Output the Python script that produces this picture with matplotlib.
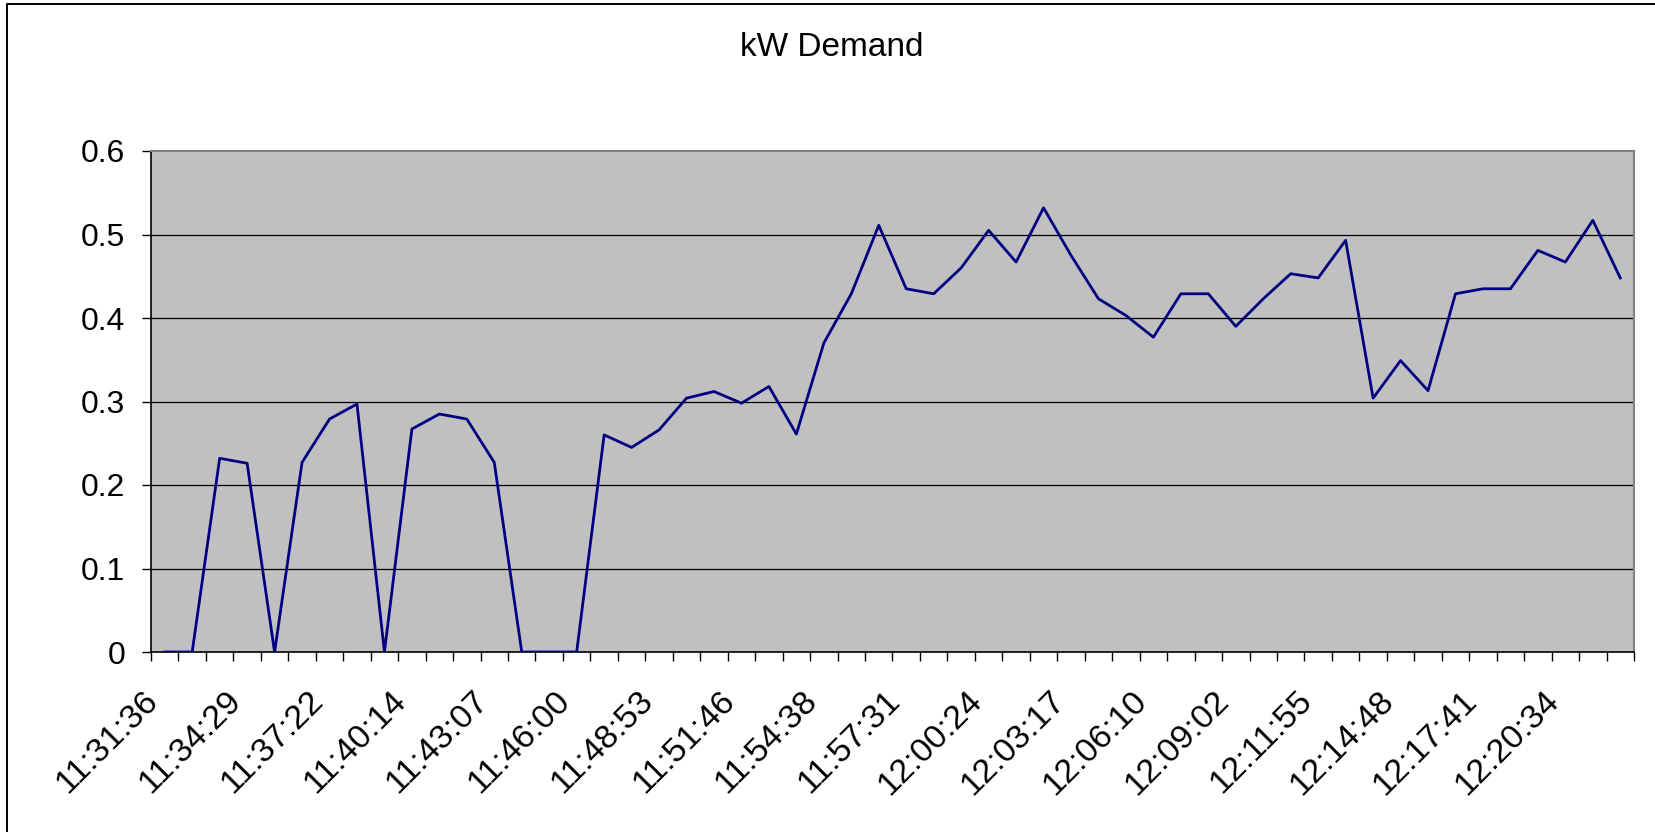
import matplotlib.pyplot as plt
from matplotlib.lines import Line2D
from matplotlib.transforms import ScaledTranslation
import numpy as np

plt.rcParams["font.family"] = ["Liberation Sans", "DejaVu Sans"]

# readings, one per minute (approx. 57.6 s apart)
demand_kw = [
    0.0, 0.0, 0.232, 0.226, 0.0, 0.227, 0.279, 0.297, 0.0, 0.267,
    0.285, 0.279, 0.227, 0.0, 0.0, 0.0, 0.260, 0.245, 0.266, 0.304,
    0.312, 0.298, 0.318, 0.261, 0.370, 0.429, 0.511, 0.435, 0.429, 0.460,
    0.505, 0.467, 0.532, 0.475, 0.423, 0.403, 0.377, 0.429, 0.429, 0.390,
    0.423, 0.453, 0.448, 0.493, 0.304, 0.349, 0.313, 0.429, 0.435, 0.435,
    0.481, 0.467, 0.517, 0.448,
]

# every third category gets a label
time_labels = [
    "11:31:36", "11:34:29", "11:37:22", "11:40:14", "11:43:07", "11:46:00",
    "11:48:53", "11:51:46", "11:54:38", "11:57:31", "12:00:24", "12:03:17",
    "12:06:10", "12:09:02", "12:11:55", "12:14:48", "12:17:41", "12:20:34",
]
label_step = 3

y_ticks = [0, 0.1, 0.2, 0.3, 0.4, 0.5, 0.6]
y_tick_labels = ["0", "0.1", "0.2", "0.3", "0.4", "0.5", "0.6"]

W, H = 1655, 832
fig = plt.figure(figsize=(W / 100, H / 100), dpi=100)
fig.patch.set_facecolor("white")

left, right, top, bottom = 151, 1634, 151, 652
ax = fig.add_axes([left / W, 1 - bottom / H, (right - left) / W, (bottom - top) / H])
ax.set_facecolor("#c0c0c0")

n = len(demand_kw)
x = np.arange(n)
ax.plot(x, demand_kw, color="#000080", linewidth=2.0, zorder=3)

ax.set_xlim(-0.5, n - 0.5)
ax.set_ylim(0, 0.6)

# y axis
ax.set_yticks(y_ticks)
ax.set_yticklabels(y_tick_labels)
ax.tick_params(axis="y", direction="out", length=6.5, width=1.0, color="black",
               labelsize=23, pad=12)
for yv in y_ticks[1:-1]:
    ax.axhline(yv, color="black", linewidth=0.9, zorder=1)

# x axis: tick marks on category boundaries, labels on category centres
ax.set_xticks(np.arange(-0.5, n, 1.0), minor=True)
ax.set_xticks(x[::label_step])
ax.set_xticklabels(time_labels, rotation=45, ha="right", va="top",
                   rotation_mode="anchor")
ax.tick_params(axis="x", which="major", length=0, labelsize=24.5, pad=24)
ax.tick_params(axis="x", which="minor", direction="out", length=6.5, width=1.0,
               color="black")
# excel puts the rotated labels a bit left of the category centre
shift = ScaledTranslation(-22 / 100, 0, fig.dpi_scale_trans)
for lbl in ax.get_xticklabels():
    lbl.set_transform(lbl.get_transform() + shift)

for side in ["top", "right"]:
    ax.spines[side].set_color("#808080")
    ax.spines[side].set_linewidth(1.5)
for side in ["left", "bottom"]:
    ax.spines[side].set_color("black")
    ax.spines[side].set_linewidth(1.2)

fig.text(832 / W, 1 - 47 / H, "kW Demand", ha="center", va="center", fontsize=24)

# outer chart border (only left and top visible)
fig.add_artist(Line2D([7 / W, 7 / W, 1.0], [0.0, 1 - 4 / H, 1 - 4 / H],
                      transform=fig.transFigure, color="black", linewidth=1.4))

fig.savefig("out.png", dpi=100)
